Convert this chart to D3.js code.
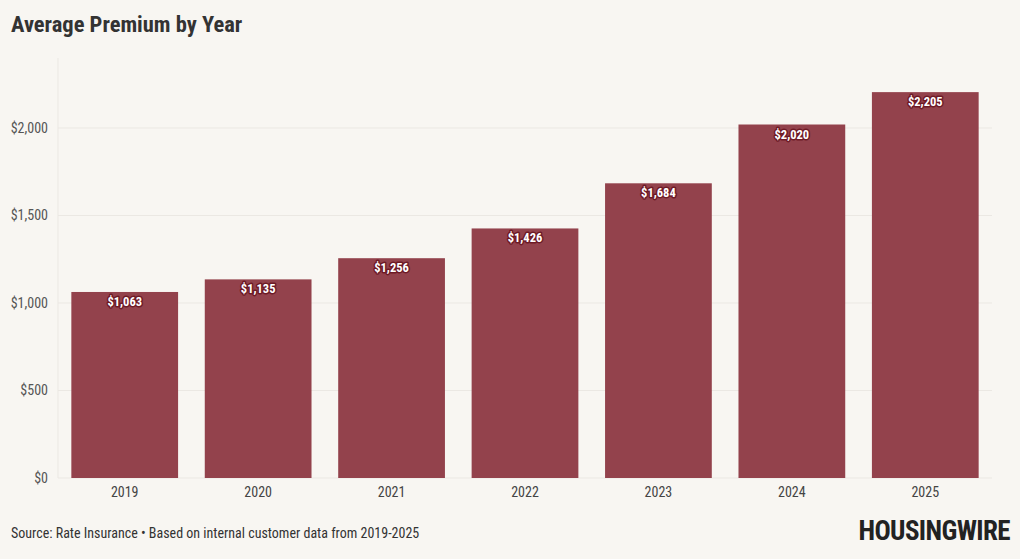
<!DOCTYPE html>
<html>
<head>
<meta charset="utf-8">
<script src="https://cdn.jsdelivr.net/npm/d3@7"></script>
<style>
    body { margin: 0; background: #f8f6f2; }
    svg { display: block; }
</style>
</head>
<body>
<div id="chart"></div>
<script>
const years = ["2019", "2020", "2021", "2022", "2023", "2024", "2025"];
const premiums = [1063, 1135, 1256, 1426, 1684, 2020, 2205];
const yTicks = [0, 500, 1000, 1500, 2000];

const width = 1020, height = 559;
const margin = {top: 58, right: 28, bottom: 81, left: 58};
const font = "'Roboto Condensed', 'Liberation Sans Narrow', 'DejaVu Sans Condensed', Roboto, sans-serif";
const barColor = "#93424c";

let svg = d3.select("#chart").append("svg")
    .attr("width", width)
    .attr("height", height)
    .attr("font-family", font);

svg.append("rect").attr("width", width).attr("height", height).attr("fill", "#f8f6f2");

let x = d3.scaleBand()
    .domain(years)
    .range([margin.left, width - margin.right])
    .paddingInner(0.2)
    .paddingOuter(0.1);

let y = d3.scaleLinear()
    .domain([0, 2400])
    .range([height - margin.bottom, margin.top]);

// title
svg.append("text")
    .attr("x", 11).attr("y", 32)
    .attr("font-size", 22.5).attr("font-weight", "bold")
    .attr("fill", "#333")
    .text("Average Premium by Year");

// grid lines
svg.append("g")
    .selectAll("line")
    .data(yTicks)
    .join("line")
    .attr("x1", margin.left).attr("x2", width - margin.right)
    .attr("y1", d => y(d)).attr("y2", d => y(d))
    .attr("stroke", "#ebe8e3").attr("stroke-width", 1);

// left axis line
svg.append("line")
    .attr("x1", margin.left).attr("x2", margin.left)
    .attr("y1", margin.top).attr("y2", height - margin.bottom)
    .attr("stroke", "#ebe8e3");

// y axis
svg.append("g")
    .attr("transform", `translate(${margin.left},0)`)
    .call(d3.axisLeft(y).tickValues(yTicks).tickSize(0).tickPadding(10)
        .tickFormat(d => "$" + d3.format(",")(d)))
    .call(g => g.select(".domain").remove())
    .call(g => g.selectAll("text")
        .attr("font-family", font).attr("font-size", 14).attr("fill", "#555"));

// x axis
svg.append("g")
    .attr("transform", `translate(0,${height - margin.bottom})`)
    .call(d3.axisBottom(x).tickSize(0).tickPadding(9))
    .call(g => g.select(".domain").remove())
    .call(g => g.selectAll("text")
        .attr("font-family", font).attr("font-size", 14).attr("fill", "#444"));

// bars
svg.append("g")
    .selectAll("rect")
    .data(premiums)
    .join("rect")
    .attr("x", (d, i) => x(years[i]))
    .attr("y", d => y(d))
    .attr("width", x.bandwidth())
    .attr("height", d => y(0) - y(d))
    .attr("fill", barColor);

// value labels with halo
let labels = svg.append("g")
    .attr("font-size", 12.5).attr("font-weight", "bold")
    .attr("text-anchor", "middle");

labels.selectAll("text.halo")
    .data(premiums)
    .join("text")
    .attr("class", "halo")
    .attr("x", (d, i) => x(years[i]) + x.bandwidth() / 2)
    .attr("y", d => y(d) + 14)
    .attr("fill", "#6e1a26").attr("stroke", "#6e1a26")
    .attr("stroke-width", 3).attr("stroke-linejoin", "round")
    .text(d => "$" + d3.format(",")(d));

labels.selectAll("text.val")
    .data(premiums)
    .join("text")
    .attr("class", "val")
    .attr("x", (d, i) => x(years[i]) + x.bandwidth() / 2)
    .attr("y", d => y(d) + 14)
    .attr("fill", "#fff")
    .text(d => "$" + d3.format(",")(d));

// footer
svg.append("text")
    .attr("x", 11).attr("y", 538)
    .attr("font-size", 14).attr("fill", "#333")
    .text("Source: Rate Insurance \u2022 Based on internal customer data from 2019-2025");

svg.append("text")
    .attr("x", 1010).attr("y", 540)
    .attr("text-anchor", "end")
    .attr("font-size", 27).attr("font-weight", "bold")
    .attr("letter-spacing", -0.6)
    .attr("fill", "#222")
    .text("HOUSINGWIRE");
</script>
</body>
</html>
